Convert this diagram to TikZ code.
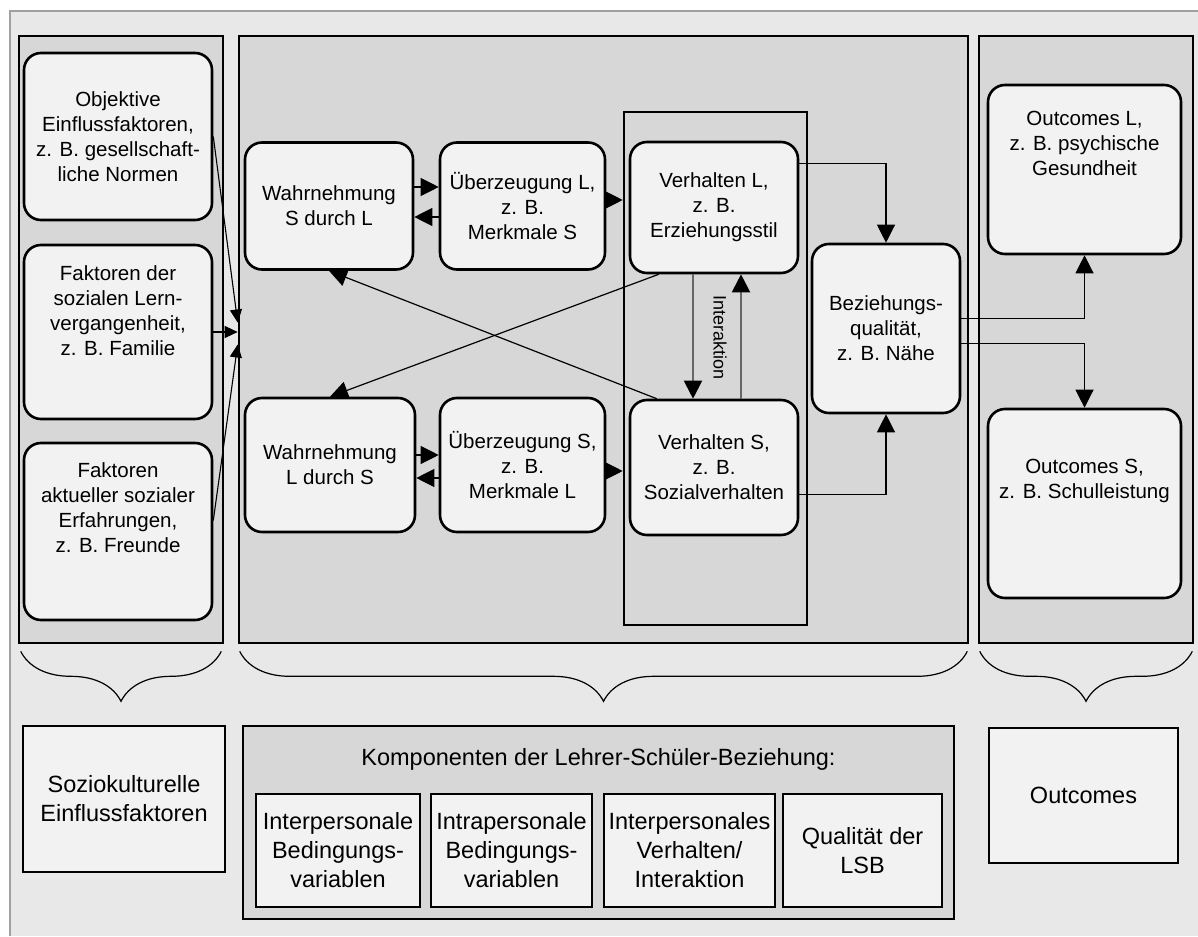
\documentclass[tikz,border=0pt]{standalone}
\usepackage{fontspec}
\setmainfont{Liberation Sans}
\usetikzlibrary{arrows.meta,decorations.pathreplacing}
\definecolor{bgfill}{HTML}{E8E8E8}
\definecolor{panelfill}{HTML}{D7D7D7}
\definecolor{boxfill}{HTML}{F2F2F2}
\definecolor{edgegray}{HTML}{A0A0A0}
\newcommand{\boxfont}{\fontsize{20.5}{25}\selectfont}
\newcommand{\legendfont}{\fontsize{23.5}{29}\selectfont}

\begin{document}
\begin{tikzpicture}[x=1pt,y=-1pt,
panel/.style={draw,line width=2.6pt,fill=panelfill},
rbox/.style={draw,line width=2.6pt,fill=boxfill,rounded corners=17pt,align=center,inner sep=0pt,font=\boxfont},
sbox/.style={draw,line width=2.6pt,fill=boxfill,align=center,inner sep=0pt,font=\legendfont},
txt/.style={align=center,inner sep=0pt,font=\boxfont},
arr/.style={-{Triangle[length=18pt,width=18pt]},line width=1.2pt},
carr/.style={-{Triangle[length=13pt,width=12pt]},line width=1.1pt},
iarr/.style={-{Triangle[length=18pt,width=18pt,color=black]},line width=2pt,draw=black!60},
grpbrace/.style={decorate,decoration={brace,amplitude=50pt},line width=1.2pt}]
\useasboundingbox (0,0) rectangle (1198,936);
%background of the whole figure
\fill[bgfill] (10,11) rectangle (1198,936);
\draw[edgegray,line width=2pt] (10,936) -- (10,11) -- (1198,11);

%the three columns
\node[panel,minimum width=204pt,minimum height=607pt] (lpanel) at (121,339.5) {};
\node[panel,minimum width=729pt,minimum height=607pt] (mpanel) at (603.5,339.5) {};
\node[panel,minimum width=214pt,minimum height=607pt] (rpanel) at (1086,339.5) {};
\node[draw,line width=2.6pt,minimum width=183pt,minimum height=513pt] (frame) at (715.5,368.5) {};

%soziokulturelle Einflussfaktoren
\node[rbox,minimum width=188pt,minimum height=167pt] (obj) at (118,136.5) {Objektive\\Einflussfaktoren,\\z. B. gesellschaft-\\liche Normen};
\node[rbox,minimum width=188pt,minimum height=174pt] (lern) at (118,332) {};
\node[txt] (lerntxt) at ([yshift=21pt]lern.center) {Faktoren der\\sozialen Lern-\\vergangenheit,\\z. B. Familie};
\node[rbox,minimum width=188pt,minimum height=177pt] (erf) at (118,531.5) {};
\node[txt] (erftxt) at ([yshift=24pt]erf.center) {Faktoren\\aktueller sozialer\\Erfahrungen,\\z. B. Freunde};

%Komponenten
\node[rbox,minimum width=168pt,minimum height=127pt] (wahrS) at (329,206) {Wahrnehmung\\S durch L};
\node[rbox,minimum width=165pt,minimum height=127pt] (ueberL) at (522.5,206) {Überzeugung L,\\z. B.\\Merkmale S};
\node[rbox,minimum width=168pt,minimum height=131pt] (verhL) at (714,207.5) {Verhalten L,\\z. B.\\Erziehungsstil};
\node[rbox,minimum width=170pt,minimum height=134pt] (wahrL) at (330,465) {Wahrnehmung\\L durch S};
\node[rbox,minimum width=165pt,minimum height=134pt] (ueberS) at (522.5,465) {Überzeugung S,\\z. B.\\Merkmale L};
\node[rbox,minimum width=168pt,minimum height=135pt] (verhS) at (714,467.5) {Verhalten S,\\z. B.\\Sozialverhalten};
\node[rbox,minimum width=148pt,minimum height=169pt] (bez) at (886,328.5) {Beziehungs-\\qualität,\\z. B. Nähe};

%Outcomes
\node[rbox,minimum width=193pt,minimum height=169pt] (outL) at (1084.5,169.5) {};
\node[txt] (outLtxt) at ([yshift=26pt]outL.center) {Outcomes L,\\z. B. psychische\\Gesundheit};
\node[rbox,minimum width=193pt,minimum height=189pt] (outS) at (1084.5,503.5) {};
\node[txt] (outStxt) at ([yshift=23pt]outS.center) {Outcomes S,\\z. B. Schulleistung};

%converging arrows from the left column
\draw[carr] (obj.east) -- ([yshift=17pt]mpanel.west);
\draw[carr] (lern.east) -- (lern.east -| mpanel.west);
\draw[carr] ([yshift=11pt]erf.east) -- ([yshift=-5pt]mpanel.west);

%perception and beliefs
\draw[arr] ([yshift=19pt]wahrS.east) -- ([yshift=19pt]ueberL.west);
\draw[arr] ([yshift=-11pt]ueberL.west) -- ([yshift=-11pt]wahrS.east);
\draw[arr] ([yshift=10pt]wahrL.east) -- ([yshift=10pt]ueberS.west);
\draw[arr] ([yshift=-13pt]ueberS.west) -- ([yshift=-13pt]wahrL.east);
\coordinate (uL) at ([yshift=6pt]ueberL.east);
\coordinate (uS) at ([yshift=-6pt]ueberS.east);
\draw[arr] (uL) -- (uL -| frame.west);
\draw[arr] (uS) -- (uS -| frame.west);

%crossing arrows
\draw[arr] ([xshift=28pt]verhS.north west) -- (wahrS.south);
\draw[arr] ([xshift=30pt]verhL.south west) -- (wahrL.north);

%interaction
\draw[iarr] ([xshift=-21pt]verhL.south) -- ([xshift=-21pt]verhS.north);
\draw[iarr] ([xshift=27pt]verhS.north) -- ([xshift=27pt]verhL.south);
\node[rotate=-90,inner sep=0pt,font=\fontsize{18}{20}\selectfont] (interaktion) at ([xshift=6pt,yshift=-63.5pt]verhL.south) {Interaktion};

%towards quality and outcomes
\draw[arr] ([yshift=44pt]verhL.east) -| (bez.north);
\draw[arr] ([yshift=-27pt]verhS.east) -| (bez.south);
\draw[arr] ([yshift=10pt]bez.east) -| (outL.south);
\draw[arr] ([yshift=-15pt]bez.east) -| (outS.north);

%braces
\draw[grpbrace] ([shift={(-3pt,-7pt)}]lpanel.south east) -- ([shift={(3pt,-7pt)}]lpanel.south west);
\draw[grpbrace] ([shift={(-2pt,-7pt)}]mpanel.south east) -- ([shift={(2pt,-7pt)}]mpanel.south west);
\draw[grpbrace] ([shift={(-2pt,-7pt)}]rpanel.south east) -- ([shift={(2pt,-7pt)}]rpanel.south west);

%legend
\node[sbox,minimum width=202pt,minimum height=146pt] (sozio) at (124,799) {Soziokulturelle\\Einflussfaktoren};
\node[panel,minimum width=711pt,minimum height=193pt] (komp) at (598.5,822.5) {};
\node[inner sep=0pt,font=\legendfont] (komptitle) at (598.5,759) {Komponenten der Lehrer-Schüler-Beziehung:};
\foreach \n/\cx/\w/\t in {k1/338/164/{Interpersonale\\Bedingungs-\\variablen},k2/511.5/161/{Intrapersonale\\Bedingungs-\\variablen},k3/689.5/171/{Interpersonales\\Verhalten/\\Interaktion},k4/862.5/159/{Qualität der\\LSB}}
  \node[sbox,minimum width=\w pt,minimum height=113pt] (\n) at (\cx,850.5) {\t};
\node[sbox,minimum width=189pt,minimum height=135pt] (outc) at (1083.5,795.5) {Outcomes};
\end{tikzpicture}
\end{document}
